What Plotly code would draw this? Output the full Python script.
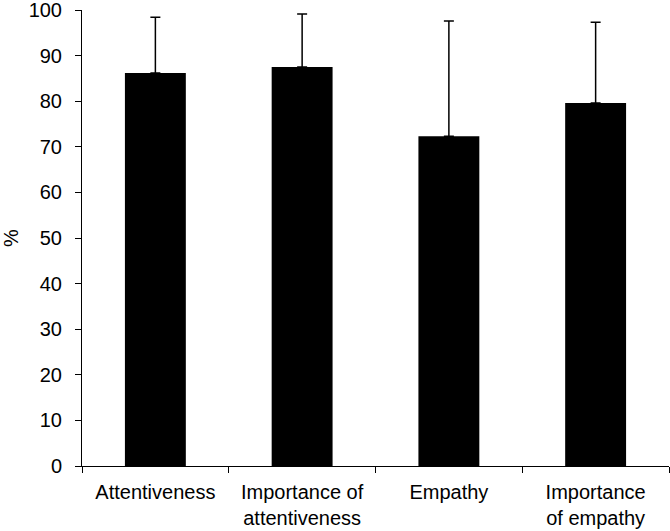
import plotly.graph_objects as go

categories = ["Attentiveness", "Importance of<br>attentiveness", "Empathy", "Importance<br>of empathy"]
values = [86.2, 87.5, 72.3, 79.6]
err_plus = [12.2, 11.6, 25.3, 17.7]
y_ticks = [0, 10, 20, 30, 40, 50, 60, 70, 80, 90, 100]

FONT = "Liberation Sans"
FS = 20

fig = go.Figure(go.Bar(
    x=categories, y=values,
    marker=dict(color="black", line=dict(width=0)),
    width=0.415,
    error_y=dict(type="data", array=err_plus, symmetric=False, arrayminus=[0]*4,
                 color="black", thickness=1.5, width=5),
))

fig.update_layout(
    width=670, height=531,
    margin=dict(l=82, r=1, t=10, b=65, autoexpand=False),
    paper_bgcolor="white", plot_bgcolor="white",
    font=dict(family=FONT, size=FS, color="black"),
    showlegend=False,
)
fig.update_xaxes(
    range=[-0.5, 3.5], showline=True, linecolor="black", linewidth=1,
    ticks="outside", tickson="boundaries", ticklen=6, tickcolor="black",
    showgrid=False, tickfont=dict(family=FONT, size=FS), automargin=False,
    ticklabeloverflow="allow", ticklabelstandoff=8,
)
fig.update_yaxes(
    range=[0, 100], tickvals=y_ticks, showline=True, linecolor="black", linewidth=1,
    ticks="outside", ticklen=6, tickcolor="black", showgrid=False, zeroline=False,
    tickfont=dict(family=FONT, size=FS), ticklabelstandoff=9, automargin=False,
    ticklabeloverflow="allow",
    title=dict(text="%", font=dict(family=FONT, size=FS), standoff=22),
)

fig.write_html("out.html", config={"displayModeBar": False},
               post_script="document.body.style.margin='0';")
